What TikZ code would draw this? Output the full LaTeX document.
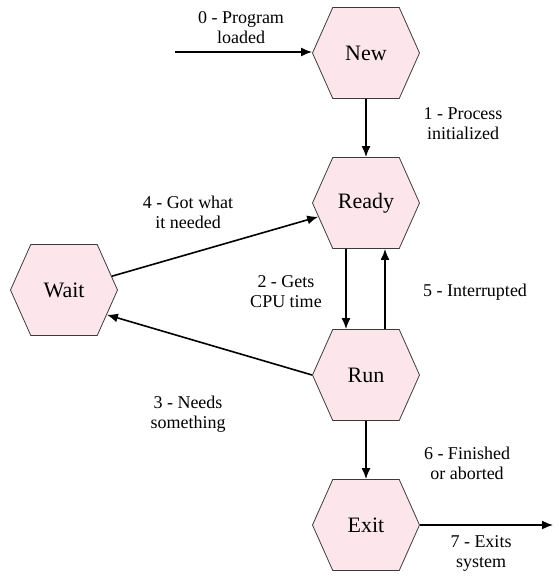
\documentclass[tikz,border=0pt]{standalone}
\usepackage{fontspec}
\setmainfont{Liberation Serif}
\usetikzlibrary{shapes.symbols,arrows.meta}
\definecolor{StatePink}{HTML}{FCE6EC}
\definecolor{StateLine}{HTML}{3A3A3A}
\tikzset{
    state/.style={signal, signal to=east and west, signal pointer angle=132,
                  draw=StateLine, fill=StatePink, line width=0.8pt,
                  minimum width=107pt, minimum height=91pt, inner sep=0,
                  font=\fontsize{22}{24}\selectfont},
    steplabel/.style={align=center, inner sep=0, font=\fontsize{18}{20}\selectfont},
    move/.style={line width=1.6pt, -{Latex[length=11pt,width=9pt]}},
}

\begin{document}
\begin{tikzpicture}[x=1pt, y=-1pt]
        \useasboundingbox (0,0) rectangle (559,584);
        % States
        \node[state] (New) at (366,53) {New};
        \node[state] (Ready) at (366,203) {Ready};
        \node[state] (Run) at (366,375) {Run};
        \node[state] (Wait) at (64,290) {Wait};
        \node[state] (Exit) at (366,525) {Exit};
        \coordinate (Start) at (175,52);
        \coordinate (Gone) at (553,525);
        %
        % Transitions
        \draw[move] (Start) -- (Start -| New.west);
        \draw[move] (New) -- (Ready);
        \draw[move] ([xshift=-20pt]Ready.south) -- ([xshift=-20pt]Ready.south |- Run.north);
        \draw[move] ([xshift=19pt]Run.north) -- ([xshift=19pt]Run.north |- Ready.south);
        \draw[move] (Run.west) -- (Wait.-30);
        \draw[move] (Wait) -- (Ready);
        \draw[move] (Run) -- (Exit);
        \draw[move] (Exit.east) -- (Gone);
        %
        % Labels
        \node[steplabel] (L0) at (241,28) {0 - Program\\loaded};
        \node[steplabel] (L1) at (463,124) {1 - Process\\initialized};
        \node[steplabel] (L2) at (286,292) {2 - Gets\\CPU time};
        \node[steplabel] (L3) at (188,414) {3 - Needs\\something};
        \node[steplabel] (L4) at (188,212) {4 - Got what\\it needed};
        \node[steplabel] (L5) at (475,292) {5 - Interrupted};
        \node[steplabel] (L6) at (467,463) {6 - Finished\\or aborted};
        \node[steplabel] (L7) at (481,553) {7 - Exits\\system};
\end{tikzpicture}
\end{document}
